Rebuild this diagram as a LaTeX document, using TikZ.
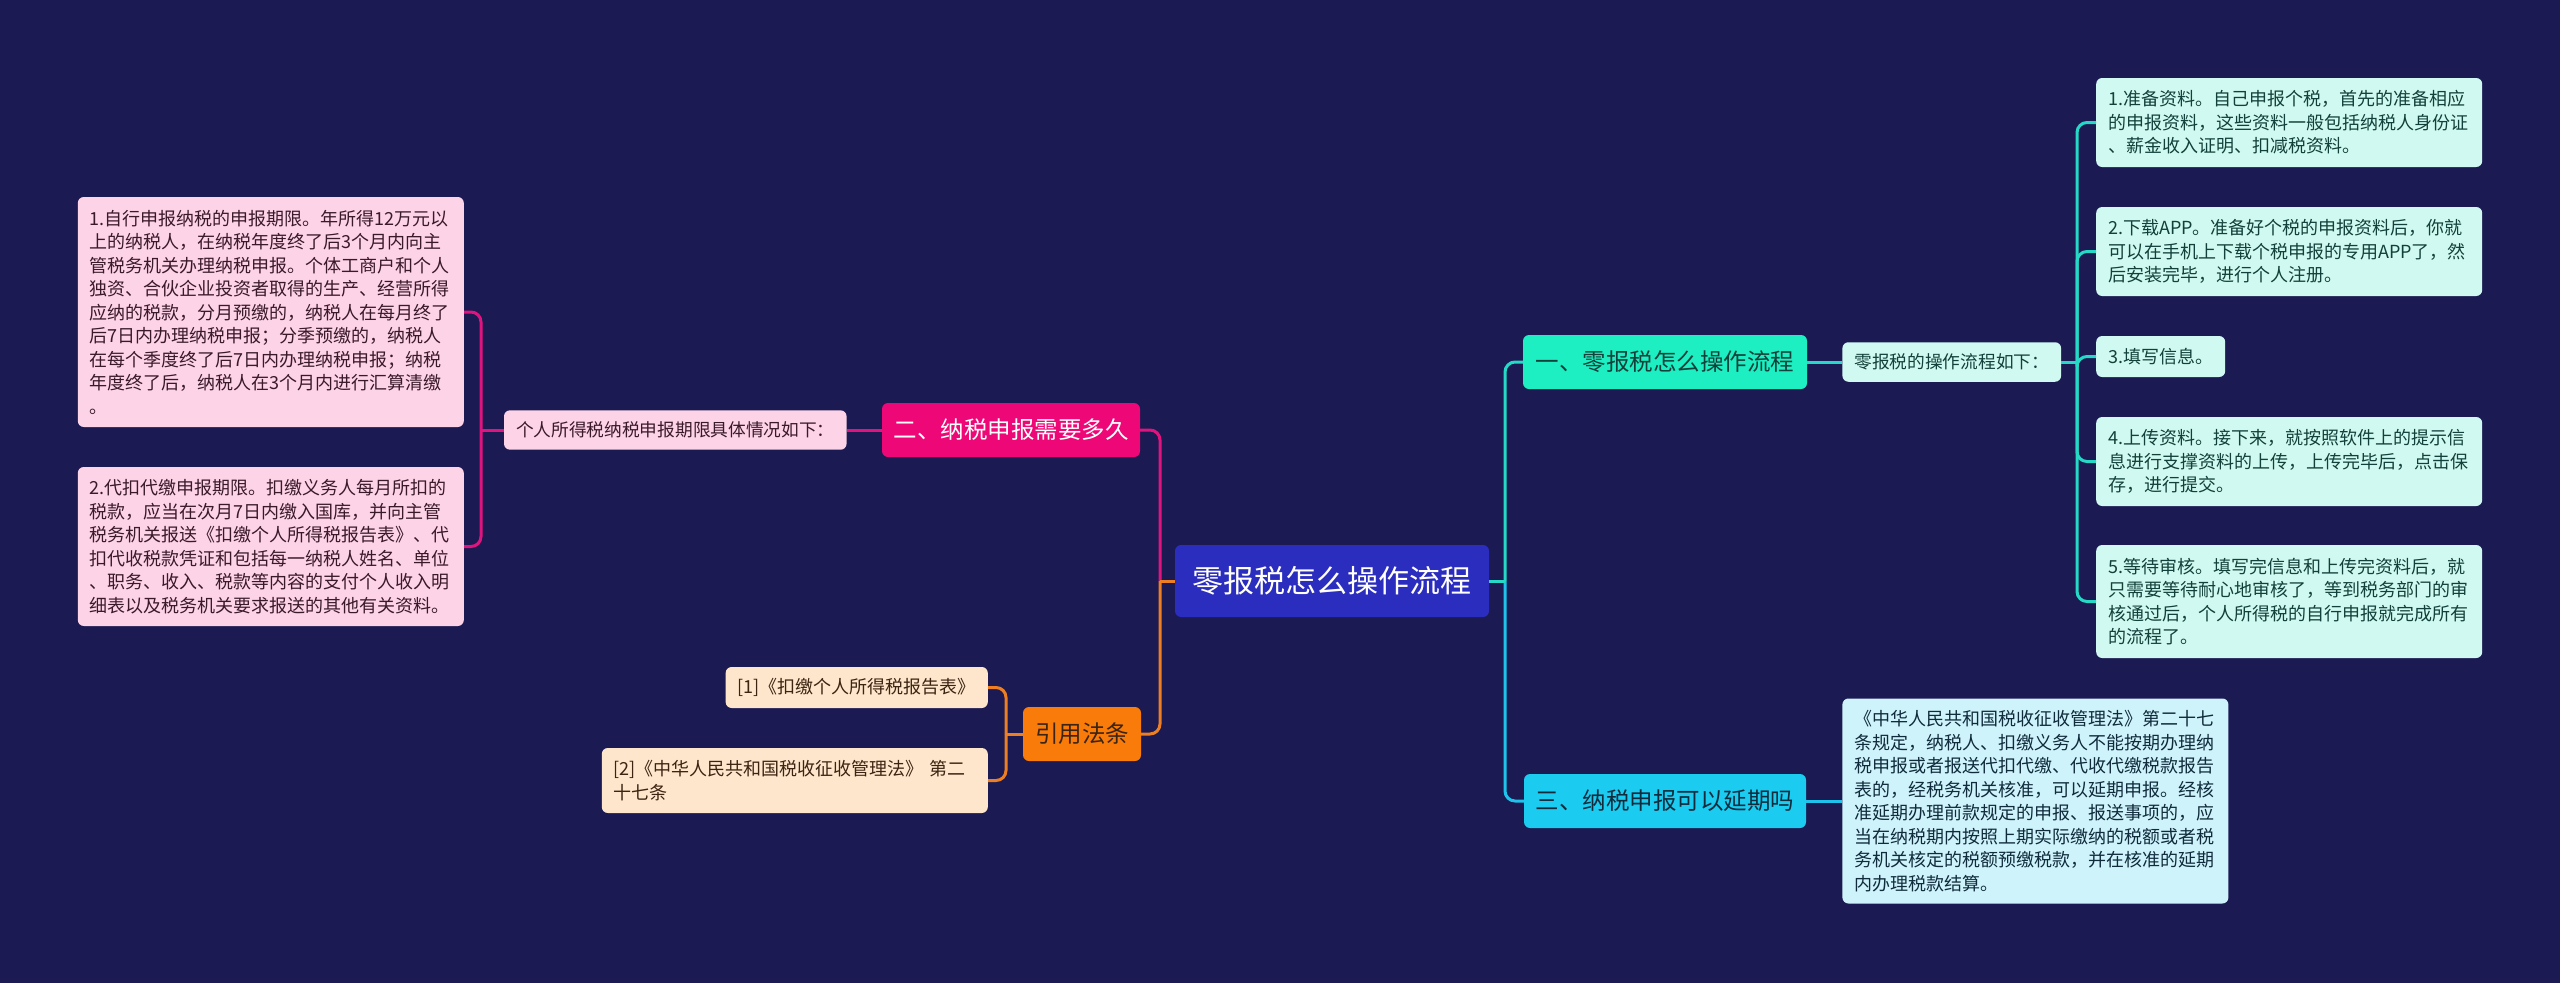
\documentclass[tikz,border=0pt]{standalone}
\usepackage{fontspec}
\setmainfont{Noto Sans CJK SC}
\usepackage{xcolor}
\usetikzlibrary{positioning}
\definecolor{bgc}{HTML}{1B1A52}
\definecolor{rootc}{HTML}{2B2DBE}
\definecolor{tealc}{HTML}{1DEFC2}
\definecolor{teallt}{HTML}{D0FAF1}
\definecolor{tealline}{HTML}{25D9C6}
\definecolor{tealtxt}{HTML}{12403A}
\definecolor{cyanc}{HTML}{1BCBF0}
\definecolor{cyanlt}{HTML}{CFF3FB}
\definecolor{cyanline}{HTML}{1EC2EA}
\definecolor{cyantxt}{HTML}{0F2B3C}
\definecolor{pinkc}{HTML}{EE0877}
\definecolor{pinklt}{HTML}{FDD3E7}
\definecolor{pinkline}{HTML}{E0147E}
\definecolor{pinktxt}{HTML}{3A1A2A}
\definecolor{orangec}{HTML}{F97B0A}
\definecolor{orangelt}{HTML}{FEE6CC}
\definecolor{orangeline}{HTML}{EE7E22}
\definecolor{orangetxt}{HTML}{3B2412}

\begin{document}
\begin{tikzpicture}[x=1pt, y=-1pt,
        node distance=35pt,
        box/.style={rounded corners=6pt, align=center, inner sep=0pt},
        rootbox/.style={box, fill=rootc, text=white, minimum width=314pt, minimum height=72pt, font=\fontsize{31}{36}\selectfont},
        topic/.style={box, minimum height=54pt, font=\fontsize{23.5}{28}\selectfont},
        sub/.style={rounded corners=6pt, align=left, inner xsep=12pt, inner ysep=11.5pt, font=\fontsize{17.7}{23.5}\selectfont},
        leaf/.style={rounded corners=6pt, align=left, inner xsep=12pt, inner ysep=11pt, font=\fontsize{18}{23.5}\selectfont},
        link/.style={line width=3pt, rounded corners=10pt}
    ]
        \fill[bgc] (0,0) rectangle (2560,983);

        \node[rootbox] (root) at (1332,581) {零报税怎么操作流程};

        \node[topic, fill=tealc, text=tealtxt, minimum width=284pt] (one) at (1665,362) {一、零报税怎么操作流程};
        \node[sub, fill=teallt, text=tealtxt, right=35pt of one] (onesub) {零报税的操作流程如下：};
        \node[leaf, fill=teallt, text=tealtxt, text width=362pt, minimum height=89pt, anchor=west] (onea) at (2096,122.5) {1.准备资料。自己申报个税，首先的准备相应\\的申报资料，这些资料一般包括纳税人身份证\\、薪金收入证明、扣减税资料。};
        \node[leaf, fill=teallt, text=tealtxt, text width=362pt, minimum height=89pt, anchor=west] (oneb) at (2096,251.5) {2.下载APP。准备好个税的申报资料后，你就\\可以在手机上下载个税申报的专用APP了，然\\后安装完毕，进行个人注册。};
        \node[leaf, fill=teallt, text=tealtxt, minimum height=41pt, anchor=west] (onec) at (2096,356.5) {3.填写信息。};
        \node[leaf, fill=teallt, text=tealtxt, text width=362pt, minimum height=89pt, anchor=west] (oned) at (2096,461.5) {4.上传资料。接下来，就按照软件上的提示信\\息进行支撑资料的上传，上传完毕后，点击保\\存，进行提交。};
        \node[leaf, fill=teallt, text=tealtxt, text width=362pt, minimum height=113pt, anchor=west] (onee) at (2096,601.5) {5.等待审核。填写完信息和上传完资料后，就\\只需要等待耐心地审核了，等到税务部门的审\\核通过后，个人所得税的自行申报就完成所有\\的流程了。};

        \node[topic, fill=cyanc, text=cyantxt, minimum width=282pt] (three) at (1665,801) {三、纳税申报可以延期吗};
        \node[leaf, fill=cyanlt, text=cyantxt, text width=362pt, minimum height=205pt, right=36pt of three] (threea) {《中华人民共和国税收征收管理法》第二十七\\条规定，纳税人、扣缴义务人不能按期办理纳\\税申报或者报送代扣代缴、代收代缴税款报告\\表的，经税务机关核准，可以延期申报。经核\\准延期办理前款规定的申报、报送事项的，应\\当在纳税期内按照上期实际缴纳的税额或者税\\务机关核定的税额预缴税款，并在核准的延期\\内办理税款结算。};

        \node[topic, fill=pinkc, text=white, minimum width=258pt] (two) at (1011,430) {二、纳税申报需要多久};
        \node[sub, fill=pinklt, text=pinktxt, left=35pt of two] (twosub) {个人所得税纳税申报期限具体情况如下：};
        \node[leaf, fill=pinklt, text=pinktxt, text width=362pt, minimum height=230pt, anchor=east] (twoa) at (464,312) {1.自行申报纳税的申报期限。年所得12万元以\\上的纳税人，在纳税年度终了后3个月内向主\\管税务机关办理纳税申报。个体工商户和个人\\独资、合伙企业投资者取得的生产、经营所得\\应纳的税款，分月预缴的，纳税人在每月终了\\后7日内办理纳税申报；分季预缴的，纳税人\\在每个季度终了后7日内办理纳税申报；纳税\\年度终了后，纳税人在3个月内进行汇算清缴\\。};
        \node[leaf, fill=pinklt, text=pinktxt, text width=362pt, minimum height=159pt, anchor=east] (twob) at (464,546.5) {2.代扣代缴申报期限。扣缴义务人每月所扣的\\税款，应当在次月7日内缴入国库，并向主管\\税务机关报送《扣缴个人所得税报告表》、代\\扣代收税款凭证和包括每一纳税人姓名、单位\\、职务、收入、税款等内容的支付个人收入明\\细表以及税务机关要求报送的其他有关资料。};

        \node[topic, fill=orangec, text=orangetxt, minimum width=118pt] (four) at (1082,734) {引用法条};
        \node[leaf, fill=orangelt, text=orangetxt, minimum height=41pt, anchor=east] (foura) at (988,687.5) {[1]《扣缴个人所得税报告表》};
        \node[leaf, fill=orangelt, text=orangetxt, text width=362pt, minimum height=65pt, anchor=east] (fourb) at (988,780.5) {[2]《中华人民共和国税收征收管理法》 第二\\十七条};

        \coordinate (rj) at (1505,581);
        \coordinate (lj) at (1160,581);
        \coordinate (tj) at (2077,362);
        \coordinate (pj) at (481,430);
        \coordinate (oj) at (1006,734);

        \draw[link, cyanline] (rj) |- (three.west);
        \draw[link, tealline] (root.east) -- (rj);
        \draw[link, tealline] (rj) |- (one.west);
        \draw[link, tealline] (one.east) -- (onesub.west);
        \draw[link, tealline] (onesub.east) -- (tj);
        \foreach \n in {onea,oneb,onec,oned,onee}
            \draw[link, tealline] (tj) |- (\n.west);
        \draw[link, cyanline] (three.east) -- (threea.west);

        \draw[link, pinkline] (lj) |- (two.east);
        \draw[link, pinkline] (two.west) -- (twosub.east);
        \draw[link, pinkline] (twosub.west) -- (pj);
        \draw[link, pinkline] (pj) |- (twoa.east);
        \draw[link, pinkline] (pj) |- (twob.east);

        \draw[link, orangeline] (root.west) -- (lj);
        \draw[link, orangeline] (lj) |- (four.east);
        \draw[link, orangeline] (four.west) -- (oj);
        \draw[link, orangeline] (oj) |- (foura.east);
        \draw[link, orangeline] (oj) |- (fourb.east);
    \end{tikzpicture}
\end{document}
